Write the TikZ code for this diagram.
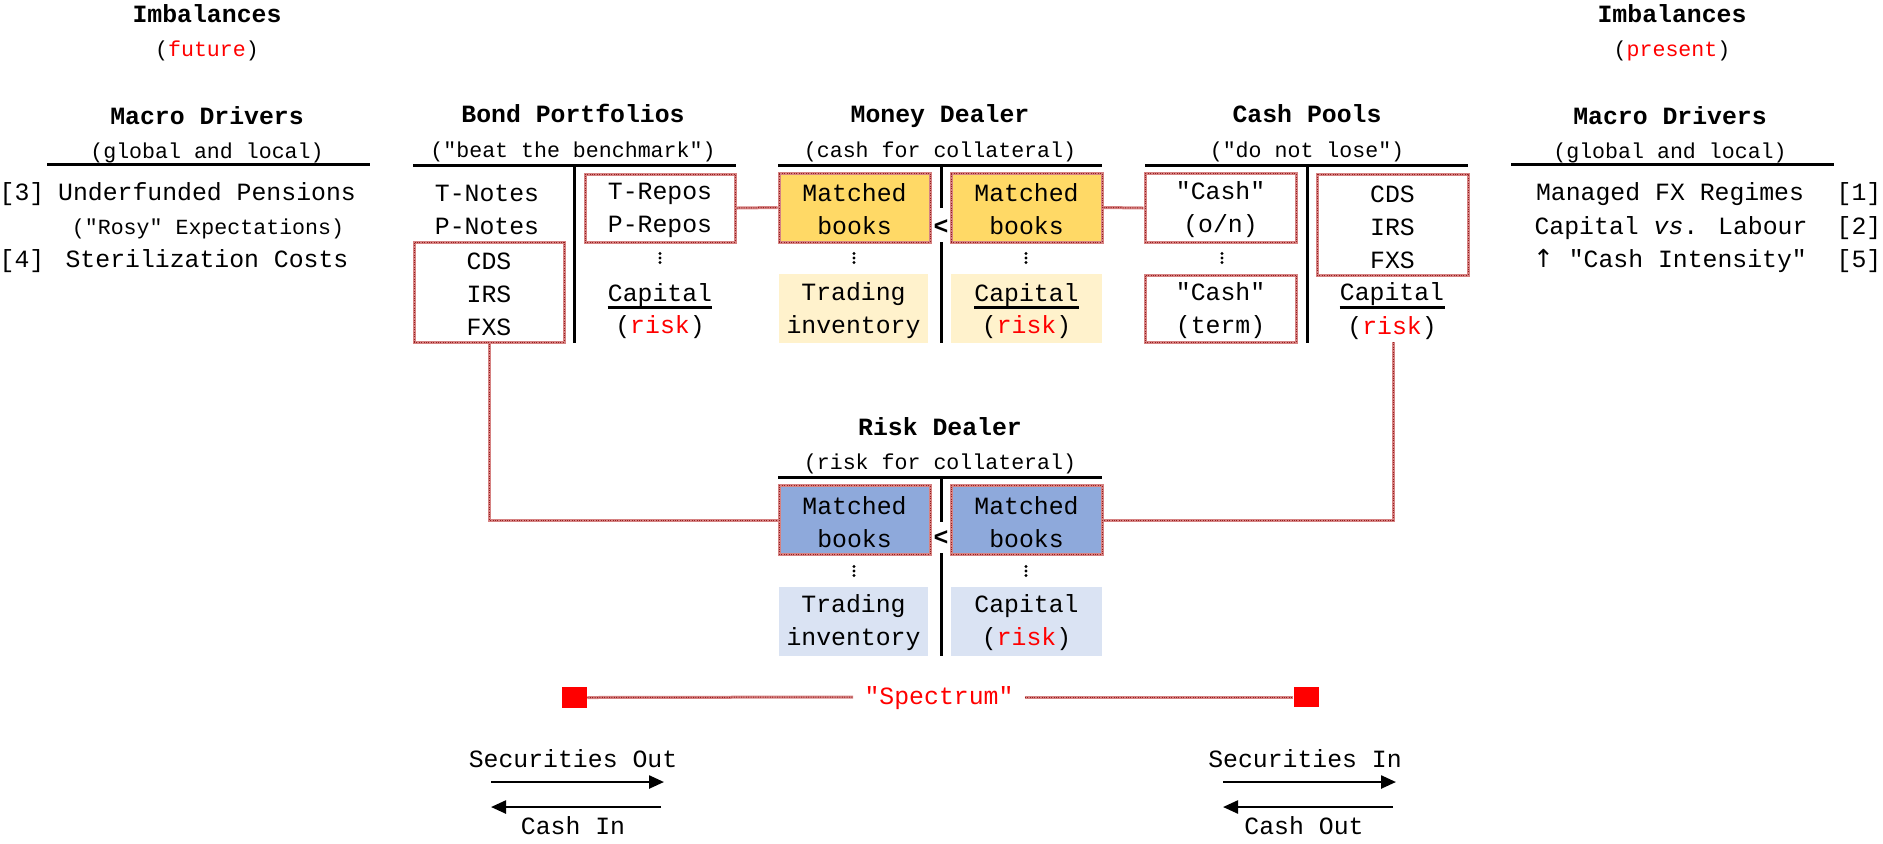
\documentclass[tikz,border=0pt]{standalone}
\usepackage{fontspec}
\setmainfont{Liberation Mono}[Ligatures=TeXOff]
\newfontfamily\arrowfont{DejaVu Sans}
\usetikzlibrary{arrows.meta}
\definecolor{gold}{RGB}{255,217,102}
\definecolor{lgold}{RGB}{255,242,204}
\definecolor{blu}{RGB}{142,169,219}
\definecolor{lblu}{RGB}{218,227,243}
\definecolor{rbord}{RGB}{214,130,130}
\definecolor{rdot}{RGB}{150,30,30}
\newcommand{\rsk}{\textcolor{red}{risk}}
\newcommand{\mainsz}{\fontsize{12.4}{16.5}\selectfont}
\newcommand{\subsz}{\fontsize{10.8}{13}\selectfont}
\newcommand{\bxs}{\rule{0pt}{11pt}}
\tikzset{
  txt/.style={inner sep=0pt, font=\mainsz, text height=9.7pt, text depth=2.3pt},
  ttl/.style={inner sep=0pt, font=\mainsz\bfseries, text height=9.7pt, text depth=2.3pt},
  sub/.style={inner sep=0pt, font=\subsz, text height=8.2pt, text depth=1.3pt},
  rulel/.style={line width=1.5pt},
  redln/.style={draw=rbord, line width=1.5pt,
     postaction={draw=rdot, line width=0.5pt, dash pattern=on 0.5pt off 0.7pt}},
  rbox/.style={redln, inner sep=0pt, minimum width=75.5pt, minimum height=34.5pt,
     align=center, font=\mainsz},
  fbox/.style={inner sep=0pt, minimum width=74.5pt, minimum height=34.5pt,
     align=center, font=\mainsz},
  arr/.style={line width=1.2pt, -{Triangle[length=7.5pt,width=6.5pt]}},
  uline/.style={line width=1.5pt},
}
\newcommand{\vdts}[2]{\fill (#1,#2-4.5) circle (1.6); \fill (#1,#2) circle (1.6); \fill (#1,#2+4.5) circle (1.6);}
\begin{document}
\begin{tikzpicture}[x=0.5pt,y=-0.5pt]
\useasboundingbox (0,0) rectangle (1883,843);

% ---------- Left macro drivers ----------
\node[ttl] (imbL) at (207,15) {Imbalances};
\node[sub] (futL) at (207,50) {(\textcolor{red}{future})};
\node[ttl] (mdL) at (207,117) {Macro Drivers};
\node[sub] (glL) at (207,152) {(global and local)};
\draw[rulel] (47,164) -- (370,164);
\node[txt] (n3) at (22,193) {[3]};
\node[txt] (upens) at (207,193) {Underfunded Pensions};
\node[sub] (rosy) at (208,228) {("Rosy" Expectations)};
\node[txt] (n4) at (22,260) {[4]};
\node[txt] (steril) at (207,260) {Sterilization Costs};

% ---------- Right macro drivers ----------
\node[ttl] (imbR) at (1672,15) {Imbalances};
\node[sub] (preR) at (1672,50) {(\textcolor{red}{present})};
\node[ttl] (mdR) at (1670,117) {Macro Drivers};
\node[sub] (glR) at (1670,152) {(global and local)};
\draw[rulel] (1511,164) -- (1834,164);
\node[txt] (mfx) at (1670,193) {Managed FX Regimes};
\node[txt] (n1) at (1859,193) {[1]};
\node[txt] (cvl) at (1671,227) {Capital \textit{vs}. Labour};
\node[txt] (n2) at (1859,227) {[2]};
\node[txt] (cint) at (1670,260) {{\arrowfont ↑} "Cash Intensity"};
\node[txt] (n5) at (1859,260) {[5]};

% ---------- Bond Portfolios ----------
\node[ttl] (bp) at (573,115) {Bond Portfolios};
\node[sub] (bps) at (573,151) {("beat the benchmark")};
\draw[rulel] (413,165) -- (736,165);
\draw[rulel] (574,165) -- (574,343);
\node[txt] (tn) at (487,194) {T-Notes};
\node[txt] (pn) at (487,227) {P-Notes};
\node[rbox, minimum width=75pt, minimum height=50pt] (bcds) at (489,292) {\bxs CDS\\IRS\\FXS};
\node[rbox, minimum width=75pt, minimum height=34pt] (trep) at (660,208) {\bxs T-Repos\\P-Repos};
\vdts{660}{258}
\node[txt] (bcap) at (660,294) {Capital};
\draw[uline] ([yshift=-0.5pt]bcap.south west) -- ([yshift=-0.5pt]bcap.south east);
\node[txt] (brisk) at (660,326) {(\rsk)};

% ---------- Money Dealer ----------
\node[ttl] (md) at (940,115) {Money Dealer};
\node[sub] (mds) at (940,151) {(cash for collateral)};
\draw[rulel] (778,165) -- (1102,165);
\draw[rulel] (941,165) -- (941,208);
\draw[rulel] (941,242) -- (941,343);
\node[ttl] (mlt) at (941,227) {<};
\node[rbox, fill=gold] (mml) at (854.5,207.5) {\bxs Matched\\books};
\node[rbox, fill=gold] (mmr) at (1026.5,207.5) {\bxs Matched\\books};
\vdts{854}{258}
\vdts{1026}{258}
\node[fbox, fill=lgold] (mti) at (853.5,308.5) {\bxs Trading\\inventory};
\node[fbox, fill=lgold, minimum width=75.5pt] (mcb) at (1026.5,308.5) {};
\node[txt] (mcap) at (1026.5,294) {Capital};
\draw[uline] ([yshift=-0.5pt]mcap.south west) -- ([yshift=-0.5pt]mcap.south east);
\node[txt] (mrisk) at (1026.5,326) {(\rsk)};

% ---------- Cash Pools ----------
\node[ttl] (cp) at (1307,115) {Cash Pools};
\node[sub] (cps) at (1307,151) {("do not lose")};
\draw[rulel] (1145,165) -- (1468,165);
\draw[rulel] (1307,165) -- (1307,343);
\node[rbox] (con) at (1220.5,208) {\bxs "Cash"\\(o/n)};
\vdts{1222}{258}
\node[rbox, minimum height=33.5pt] (cterm) at (1220.5,308.5) {\bxs "Cash"\\(term)};
\node[rbox, minimum height=50.5pt] (ccds) at (1392.5,224.5) {\bxs CDS\\IRS\\FXS};
\node[txt] (ccap) at (1392,293) {Capital};
\draw[uline] ([yshift=-1pt]ccap.south west) -- ([yshift=-1pt]ccap.south east);
\node[txt] (crisk) at (1392,327) {(\rsk)};
\coordinate (cst) at (1393,342);

% ---------- Risk Dealer ----------
\node[ttl] (rd) at (940,428) {Risk Dealer};
\node[sub] (rds) at (940,463) {(risk for collateral)};
\draw[rulel] (778,477) -- (1102,477);
\draw[rulel] (941,477) -- (941,522);
\draw[rulel] (941,553) -- (941,656);
\node[ttl] (rlt) at (941,538) {<};
\node[rbox, fill=blu] (rml) at (854.5,520) {\bxs Matched\\books};
\node[rbox, fill=blu] (rmr) at (1026.5,520) {\bxs Matched\\books};
\vdts{854}{571}
\vdts{1026}{571}
\node[fbox, fill=lblu] (rti) at (853.5,621) {\bxs Trading\\inventory};
\node[fbox, fill=lblu, minimum width=75.5pt] (rcb) at (1026.5,621) {\bxs Capital\\(\rsk)};

% ---------- red connectors ----------
\draw[redln] (trep.east) -- (mml.west);
\draw[redln] (mmr.east) -- (con.west);
\draw[redln] (bcds.south) |- (rml.west);
\draw[redln] (cst) |- (rmr.east);

% ---------- Spectrum ----------
\node[fill=red, inner sep=0pt, minimum width=12.5pt, minimum height=10.5pt] (sqL) at (574.5,697.5) {};
\node[fill=red, inner sep=0pt, minimum width=12.5pt, minimum height=10pt] (sqR) at (1306,697) {};
\node[txt, text=red, inner xsep=5.5pt] (spec) at (939,697) {"Spectrum"};
\draw[redln] (sqL.east) -- (spec.west);
\draw[redln] (spec.east) -- (sqR.west);

% ---------- bottom arrows ----------
\node[txt] (secout) at (573,760) {Securities Out};
\coordinate (a1s) at (491,782); \coordinate (a1e) at (664,782);
\draw[arr] (a1s) -- (a1e);
\coordinate (a2s) at (661,807); \coordinate (a2e) at (491,807);
\draw[arr] (a2s) -- (a2e);
\node[txt] (cashin) at (573,827) {Cash In};

\node[txt] (secin) at (1305,760) {Securities In};
\coordinate (b1s) at (1223,782); \coordinate (b1e) at (1396,782);
\draw[arr] (b1s) -- (b1e);
\coordinate (b2s) at (1393,807); \coordinate (b2e) at (1223,807);
\draw[arr] (b2s) -- (b2e);
\node[txt] (cashout) at (1304,827) {Cash Out};
\end{tikzpicture}
\end{document}
